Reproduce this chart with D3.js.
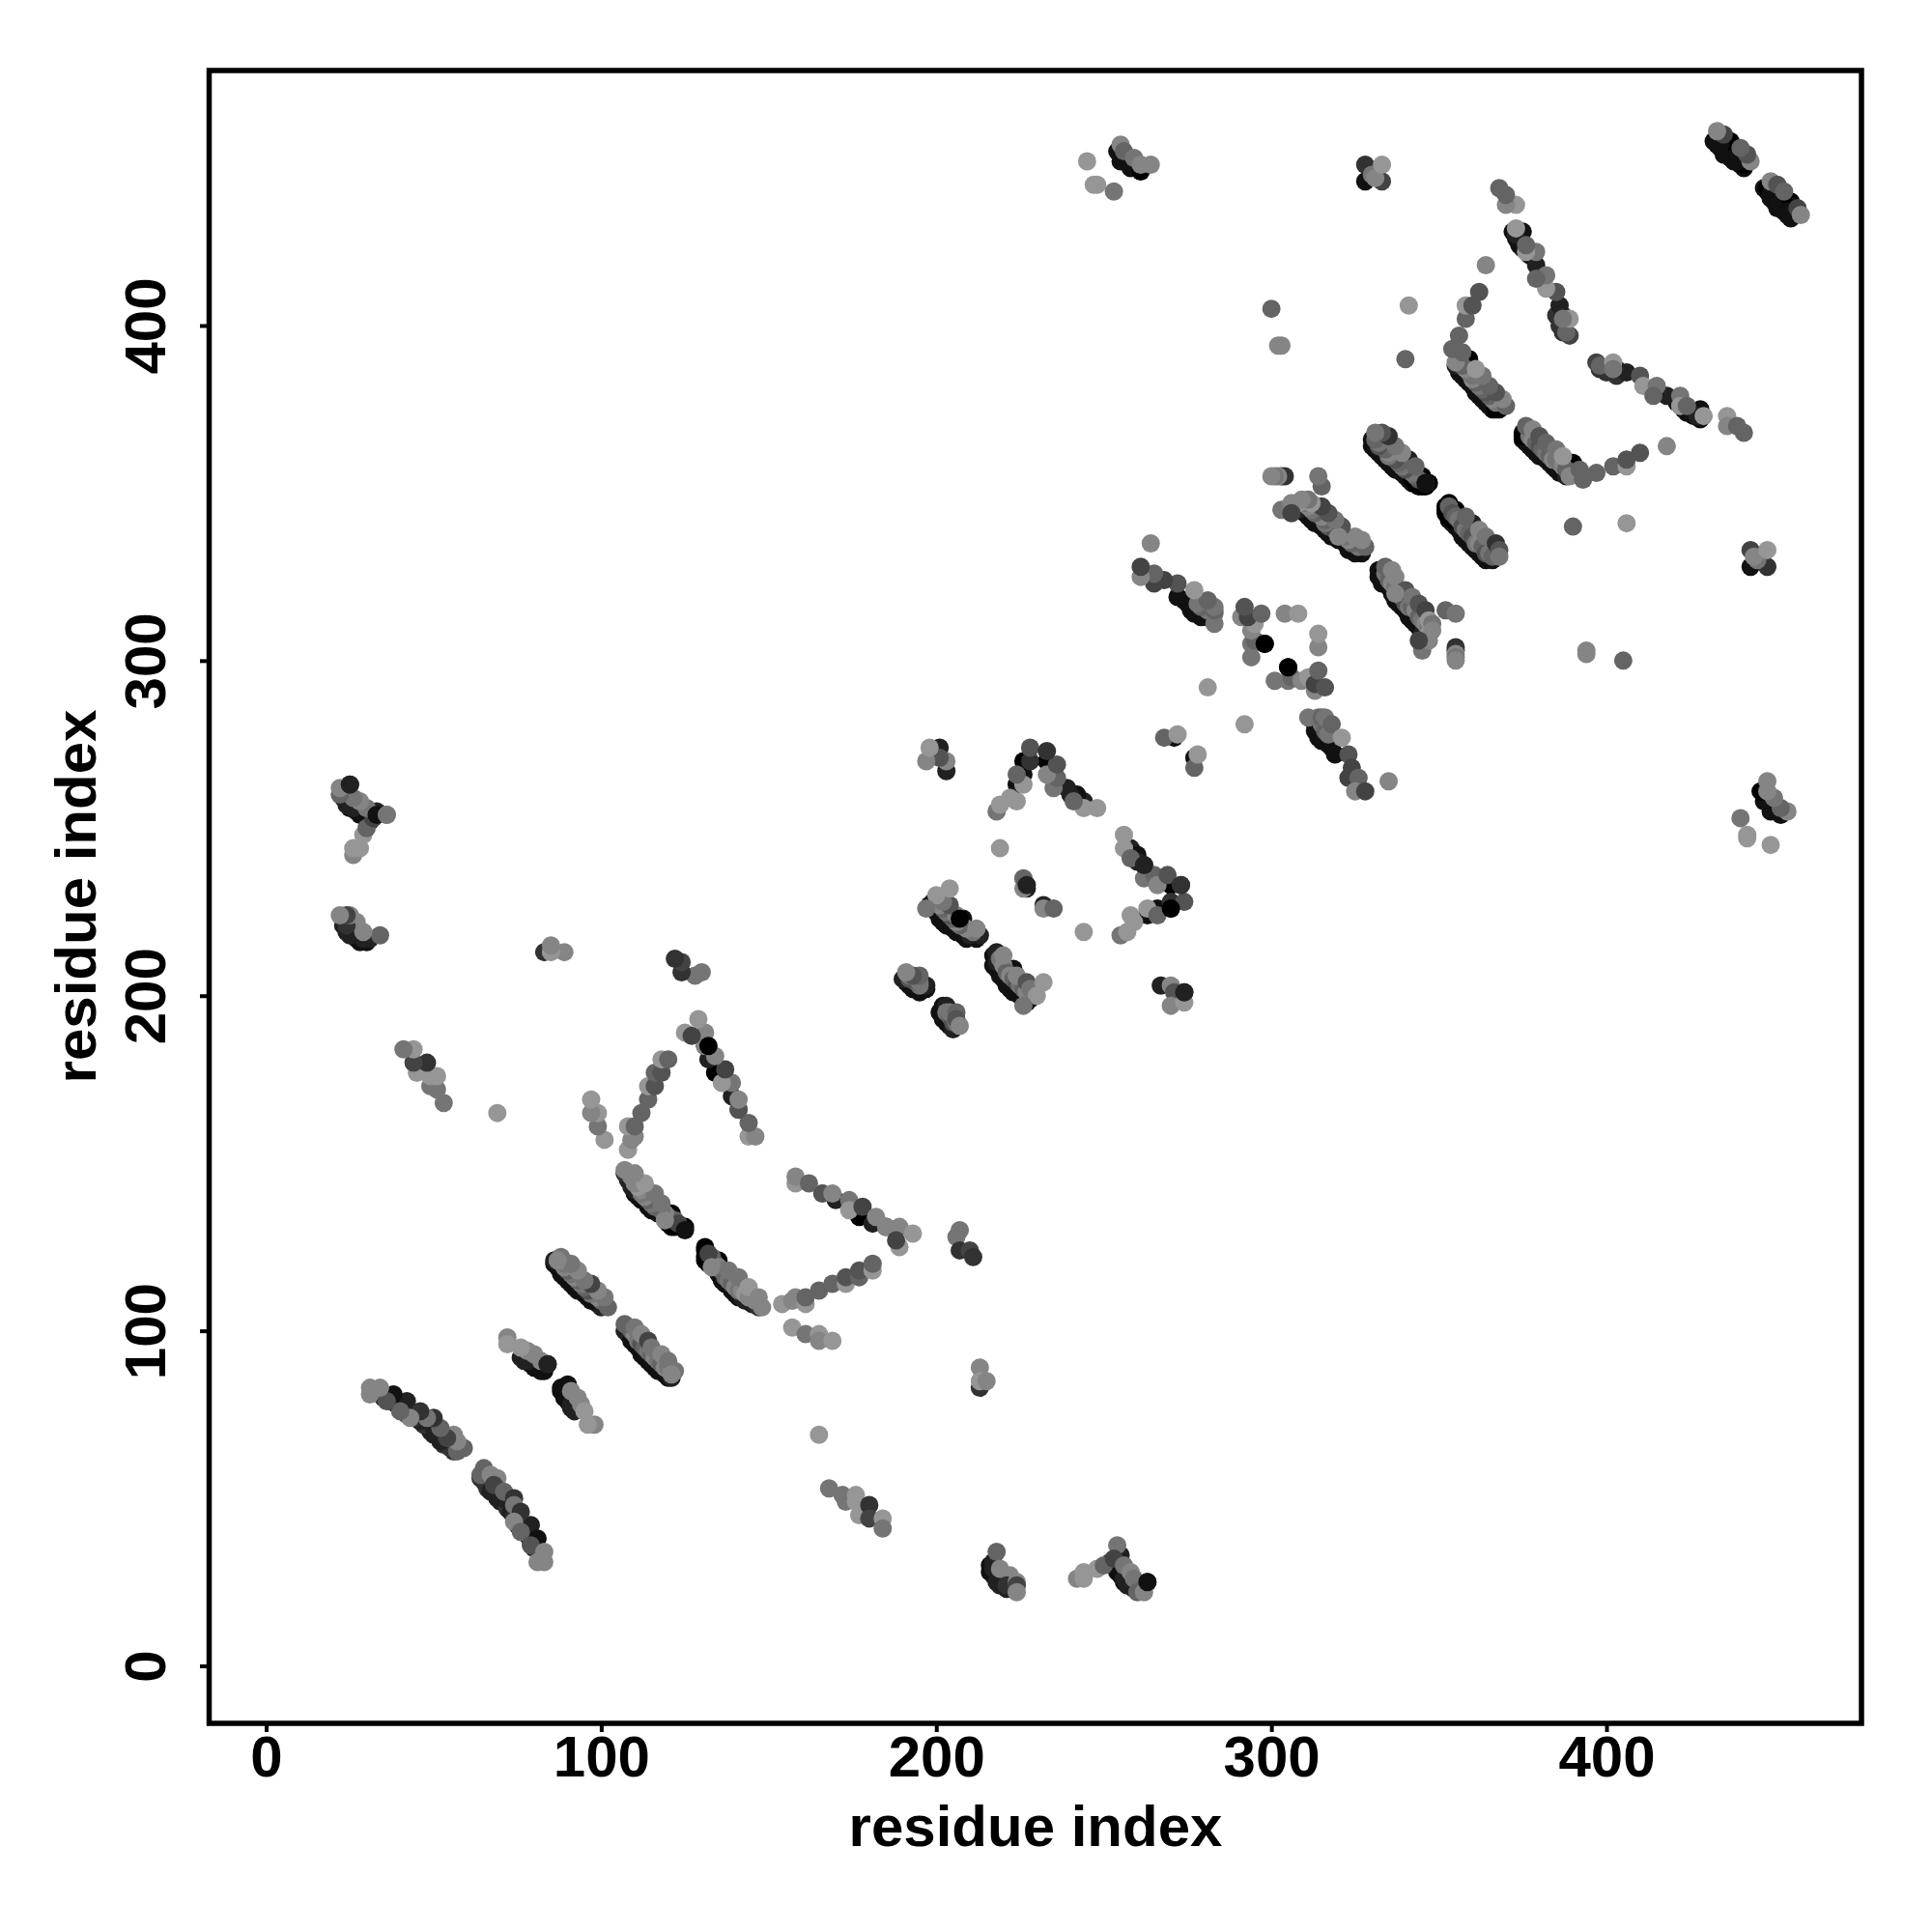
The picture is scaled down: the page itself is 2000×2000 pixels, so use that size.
<!DOCTYPE html>
<html><head><meta charset="utf-8">
<script src="https://cdn.jsdelivr.net/npm/d3@7"></script>
<style>html,body{margin:0;background:#fff}svg{display:block}</style></head>
<body><div id="c"></div>
<script>
// Contacts [residue i, residue j, strength 0..9]; the map is symmetric, so only i>j is listed.
const strandB=[[65,59,3],[64,57,3],[67,57,1],[69,56,1],[68,54,5],[71,52,3],[71,50,7],[74,50,6],[74,48,2],[76,46,6],[74,43,1],[79,42,7],[76,40,3],[81,38,8],[79,36,4],[83,34,1],[81,31,1],[83,31,1]];
const strandD=[[90,84,8],[89,81,8],[91,82,1],[93,80,1],[91,78,7],[94,78,1],[95,76,0],[98,72,1],[96,72,0]];
const strandF=[[107,102,3],[107,100,7],[110,101,2],[112,99,1],[109,97,8],[114,97,5],[112,94,8],[115,95,2],[118,93,1],[115,91,8],[117,89,8],[120,91,2],[122,88,2],[121,87,1]];
const strandH=[[131,125,9],[132,123,5],[131,121,9],[135,121,9],[133,119,1],[138,118,2],[136,116,8],[141,116,2],[139,113,8],[144,113,0],[142,110,7],[147,110,1],[148,107,1]];
const armI=[[154,108,0],[157,109,1],[158,110,1],[161,108,0],[161,110,3],[165,112,3],[169,114,3],[173,114,0],[173,116,4],[177,116,3],[177,118,4],[181,118,0],[181,120,3]];
const armJ=[[158,144,0],[158,146,1],[162,144,3],[166,141,0],[166,141,4],[169,141,1],[170,139,7],[174,139,2],[174,136,0],[177,134,9],[178,137,5],[182,134,1],[181,132,7],[185,131,9],[185,131,1],[189,131,1],[189,125,0],[188,127,5],[193,129,0]];
const groupK=[[157,101,0],[161,99,2],[165,99,0],[165,97,1],[169,97,0],[165,69,0]];
const groupM=[[168,53,2],[172,51,2],[173,49,2],[176,51,0],[176,49,0],[177,45,0],[180,48,6],[180,44,5],[184,44,0],[184,41,2]];
const groupN=[[213,83,6],[213,89,1],[213,85,0],[215,85,1]];
const groupO=[[207,130,2],[206,128,2],[207,124,6],[210,124,5],[211,122,6]];
const groupP=[[218,34,3],[217,31,7],[217,29,7],[219,29,1],[219,26,7],[222,27,1],[221,24,6],[224,25,1],[224,24,5],[224,22,1]];
const groupQ=[[242,26,1],[244,26,0],[244,28,0],[248,29,0],[250,30,3],[254,36,2],[253,32,5],[255,33,7],[254,29,8],[256,30,2],[256,26,7],[258,28,1],[259,26,2],[260,22,3],[262,22,1],[263,25,8]];
const groupR=[[203,197,7],[202,194,8],[204,195,2],[206,195,3],[205,193,7],[206,193,4],[207,191,1]];
const strandS=[[218,213,7],[220,212,1],[218,210,7],[223,208,8],[220,207,8],[224,206,1],[222,204,8],[227,204,4],[225,202,8],[228,202,2],[232,204,0],[230,200,0],[228,199,8],[226,197,2]];
const groupT=[[232,227,7],[232,226,1],[235,226,3],[244,219,0]];
const wedgeLow=[[255,218,2],[257,219,0],[259,222,0],[258,224,0],[263,226,0],[263,224,8],[266,224,3],[266,226,8],[270,226,9],[270,228,6],[274,228,4]];
const wedgeUp=[[256,248,0],[256,244,0],[258,244,7],[258,241,3],[260,242,8],[260,240,7],[262,239,7],[262,235,2],[265,236,3],[266,233,1],[269,236,4],[270,233,9],[273,233,6]];
const groupU=[[267,203,7],[270,203,1],[271,201,4],[270,197,1],[274,198,0],[274,201,7],[277,268,3],[277,271,8],[278,272,0]];
const strandV=[[311,283,2],[314,283,2],[315,283,3],[316,283,2],[315,280,8],[318,281,3],[317,277,8],[321,277,0],[319,272,8],[323,272,4],[324,268,5],[323,265,5],[326,265,3],[325,261,1],[328,261,5],[335,264,1]];
const coreW=[[301,294,2],[305,294,2],[306,295,3],[309,294,1],[311,295,0],[305,298,9],[313,291,1],[313,293,5],[314,297,3],[316,292,4],[314,304,1],[314,308,0],[292,281,0]];
const strandX=[[334,328,3],[333,326,8],[336,327,1],[335,325,8],[337,325,1],[338,321,8],[340,321,4],[337,320,1],[340,318,8],[342,319,2],[344,317,4],[342,314,8],[346,315,5],[347,312,0],[345,308,7],[348,311,2],[347,308,0],[345,304,2],[352,315,3],[355,314,2],[355,304,6],[355,302,1],[355,301,2],[345,303,2],[347,306,1],[348,309,1],[344,306,5],[355,300,1],[355,303,7]];
const strandY=[[353,347,9],[352,345,9],[355,345,9],[354,342,9],[358,343,3],[357,340,8],[360,341,7],[359,338,8],[362,339,1],[360,336,8],[364,337,2],[363,333,8],[367,335,6],[365,331,8],[368,333,4],[368,331,2]];
const strandZ=[[376,370,3],[375,367,9],[378,369,1],[378,365,8],[380,367,4],[382,365,3],[382,362,7],[385,363,2],[387,361,0],[386,358,8],[390,359,9],[389,355,1],[392,357,3],[393,354,3],[397,356,3],[402,358,3],[406,358,0],[406,360,4],[410,362,4],[418,364,1]];
const armAA=[[397,389,5],[398,388,3],[402,389,0],[402,387,2],[403,387,7],[406,386,7],[410,385,4],[411,382,0],[415,382,2],[414,379,3],[418,379,7],[422,379,2],[422,376,0],[424,376,3],[424,374,8],[428,375,8],[429,373,0],[427,373,7],[436,373,0],[436,370,1],[439,370,3],[441,368,3]];
const strandAB=[[449,443,1],[448,441,9],[451,442,4],[449,439,8],[453,440,3],[451,437,8],[455,437,9],[454,434,8],[457,435,5],[455,433,8],[458,433,1]];
const groupAC=[[449,245,0],[442,247,0],[442,248,0],[440,253,2],[454,255,1],[452,254,8],[452,256,3],[449,255,8],[450,259,2],[447,258,8],[448,261,1],[446,261,9],[448,264,1]];
const groupAD=[[443,328,8],[448,328,6],[443,333,5],[445,330,2],[444,331,1],[448,333,0]];
const singles=[[405,300,3],[394,303,1],[394,302,1],[406,341,0],[390,340,3]];
// Dark contacts along the lower edge of each strand, visible under the lighter ones
const edgeContacts=[[64,56,6],[65,55,6],[66,53,6],[67,52,7],[69,50,7],[70,49,7],[72,47,6],[73,46,7],[74,44,6],[75,42,7],[76,41,7],[78,39,7],[79,37,7],[80,35,6],
[88,83,8],[88,82,8],[89,80,8],[90,79,8],[91,77,7],[92,76,7],
[108,99,8],[109,98,8],[110,96,8],[111,95,8],[112,93,8],[113,92,8],[114,91,8],[115,90,8],[116,89,8],[117,88,8],[119,87,8],[120,86,8],[121,86,7],
[131,124,9],[131,122,9],[132,120,9],[134,119,8],[135,117,8],[136,115,8],[137,114,8],[139,112,8],[140,111,8],[141,110,8],[143,109,7],[145,108,7],[147,107,6],
[217,212,8],[217,209,8],[218,208,8],[219,206,8],[220,205,8],[221,203,8],[222,202,8],[223,201,8],[225,200,8],[226,199,8],[227,198,8],
[202,197,8],[201,195,8],[202,193,8],[203,192,8],[204,191,8],[205,190,7],
[216,30,8],[216,28,8],[217,27,8],[218,25,7],[219,24,7],[221,23,7],
[252,31,7],[253,30,7],[254,28,8],[255,27,8],[256,25,8],[257,24,7],[259,23,7],
[313,281,8],[313,279,8],[314,277,8],[315,276,8],[317,275,8],[318,274,8],
[332,327,8],[332,325,8],[333,323,8],[335,322,8],[336,320,8],[337,318,8],[338,317,8],[339,316,8],[340,315,8],[341,313,8],[342,312,8],[343,311,8],[344,310,8],[345,309,8],
[352,346,9],[352,344,9],[353,342,9],[354,341,8],[355,340,8],[356,339,8],[357,337,8],[358,336,8],[359,335,8],[360,334,8],[361,333,8],[362,332,8],[363,331,8],[364,330,8],[366,330,8],
[375,368,9],[375,366,9],[376,365,8],[377,364,8],[378,363,8],[379,362,8],[380,361,8],[382,360,8],[383,359,8],[384,358,8],[385,357,8],[386,356,8],[388,355,7],
[398,387,6],[400,386,6],[403,385,6],[421,377,8],[423,375,8],[426,373,8],[428,372,8],
[447,441,8],[448,440,8],[449,438,8],[450,437,8],[451,435,8],[452,435,8],[453,434,8],[454,433,8],[455,432,8]];
// Mid-grey contacts in the body of the dense strands
const bodyContacts=[[353,346,3],[354,344,4],[355,343,3],[356,342,2],[357,340,4],[358,339,2],[359,338,3],[360,337,4],[361,335,2],[362,335,1],[363,334,3],[364,332,4],[365,332,2],[366,331,3],
[334,326,2],[335,324,3],[336,323,1],[337,322,2],[338,320,3],[339,319,1],[340,317,4],[341,316,2],[342,316,3],[343,315,1],[344,313,3],[345,312,2],[346,311,1],[347,310,2],
[377,367,2],[378,366,1],[379,365,3],[380,364,4],[381,363,3],[382,362,2],[383,361,3],[384,360,1],[385,360,2],[386,359,2],[387,358,1],[388,357,3],
[109,100,3],[110,99,1],[111,97,2],[112,96,4],[113,95,3],[114,94,2],[115,93,3],[116,92,1],[117,91,2],[118,90,3],[119,89,1],[120,89,2],[121,88,1],
[133,122,3],[134,120,3],[135,119,1],[136,118,2],[137,116,3],[138,115,2],[139,114,3],[140,113,1],[141,112,2],[142,112,1],[143,111,0],[144,110,1],[146,109,1],
[219,211,2],[220,209,1],[221,207,3],[222,206,1],[223,205,3],[224,204,4],[225,203,2],[226,202,3],[227,201,1],
[203,195,2],[204,194,3],[205,192,4],[206,192,2],[315,281,2],[316,279,3],[317,278,2]];
// Contacts that lie on top of everything else in the picture (not mirrored)
const topContacts=[[84,90,7],[125,130,8],[346,353,8],[305,298,9],[298,305,9],[263,25,8],[227,233,7],[274,201,7],[207,223,9],[262,239,7],[270,226,9],[273,233,6],[25,263,7],[33,254,8],[36,254,2],[132,185,9]];
const contactGroups=[strandB,strandD,strandF,strandH,armI,armJ,groupK,groupM,groupN,groupO,groupP,groupQ,groupR,strandS,groupT,wedgeLow,wedgeUp,groupU,strandV,coreW,strandX,strandY,strandZ,armAA,strandAB,groupAC,groupAD,singles];
const tickValues=[0,100,200,300,400];
const axisTitle="residue index";

const W=2000,H=2000,L=217,R=1927,T=73,B=1783;
const x=d3.scaleLinear().domain([-16.86,476.1]).range([L,R]);
const y=d3.scaleLinear().domain([-16.86,476.1]).range([B,T]);
const grey=d3.scaleLinear().domain([0,9]).range([150,0]);
const svg=d3.select("#c").append("svg").attr("width",W).attr("height",H);
svg.append("rect").attr("width",W).attr("height",H).attr("fill","#fff");
const both=a=>a.concat(a.map(d=>[d[1],d[0],d[2]]));
const contacts=both(contactGroups.flat());
const under=both(edgeContacts).concat(contacts.filter(d=>d[2]>=7));
const over=contacts.filter(d=>d[2]<7);
svg.append("g").selectAll("circle").data(under.concat(both(bodyContacts),over,topContacts)).join("circle")
  .attr("cx",d=>x(d[0])).attr("cy",d=>y(d[1])).attr("r",9.5)
  .attr("fill",d=>{const g=Math.round(grey(d[2]));return d3.rgb(g,g,g)+""});
const font='"Liberation Sans",Arial,sans-serif';
const ax=svg.append("g").attr("transform",`translate(0,${B})`).call(d3.axisBottom(x).tickValues(tickValues).tickFormat(d3.format("d")).tickSize(10));
const ay=svg.append("g").attr("transform",`translate(${L},0)`).call(d3.axisLeft(y).tickValues(tickValues).tickFormat(d3.format("d")).tickSize(10));
[ax,ay].forEach(a=>{a.select(".domain").remove();a.selectAll("line").attr("stroke","#000").attr("stroke-width",4);
  a.selectAll("text").attr("font-family",font).attr("font-weight","bold").attr("font-size",60).attr("fill","#000");});
ax.selectAll("text").attr("y",56).attr("dy",null);
ay.selectAll("text").attr("x",null).attr("y",null).attr("dy",null).attr("text-anchor","middle")
  .attr("transform","translate(-46,0) rotate(-90)");
svg.append("rect").attr("x",216.5).attr("y",T).attr("width",R-216.5).attr("height",1784-T).attr("fill","none").attr("stroke","#000").attr("stroke-width",5.5);
svg.append("text").attr("x",(L+R)/2).attr("y",1911).attr("text-anchor","middle").attr("font-family",font).attr("font-weight","bold").attr("font-size",60).text(axisTitle);
svg.append("text").attr("transform",`translate(99,${(T+B)/2}) rotate(-90)`).attr("text-anchor","middle").attr("font-family",font).attr("font-weight","bold").attr("font-size",60).text(axisTitle);
</script></body></html>
